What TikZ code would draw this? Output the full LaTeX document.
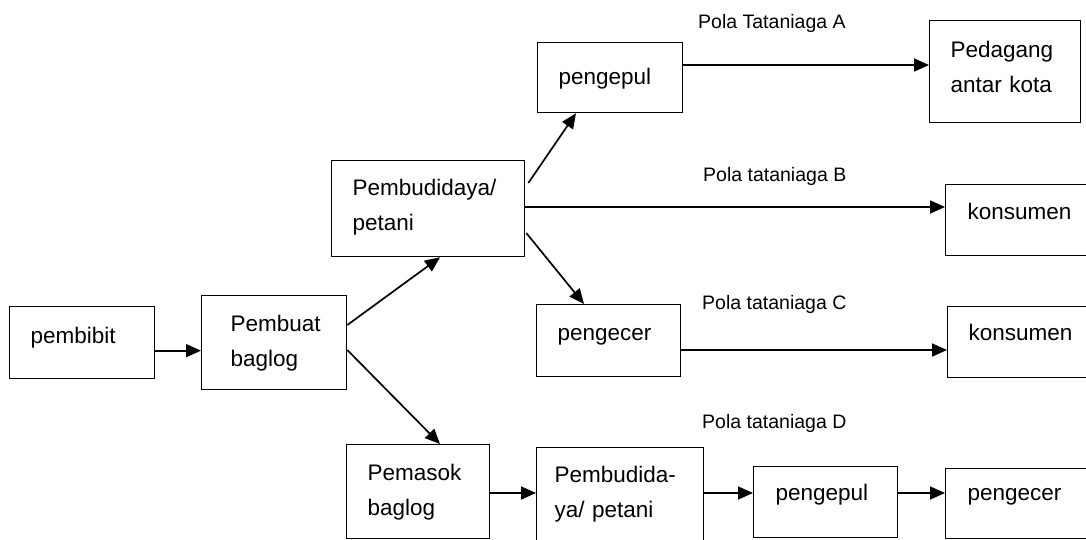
\documentclass[tikz,border=0pt]{standalone}
\usepackage{fontspec}
\setmainfont{Liberation Sans}
\usetikzlibrary{arrows.meta}
\tikzset{
  box/.style={draw, line width=1.3pt, anchor=north west, inner xsep=0pt, inner ysep=0pt,
    align=left, font=\fontsize{22.5}{34.5}\selectfont},
  bx/.style n args={4}{text width=#1pt, text depth=#2pt, text height=#3pt,
    execute at begin node={\leftskip=#4pt\relax}},
  arr/.style={line width=1.7pt, -{Triangle[length=15pt,width=13pt]}},
  lbl/.style={anchor=base west, inner sep=0pt, font=\fontsize{19.5}{22}\selectfont}
}
\begin{document}
\begin{tikzpicture}[x=1pt,y=-1pt]
\useasboundingbox (0,0) rectangle (1086,540);
% boxes: bx={W}{H-baseline}{baseline}{pad}
\node[box, bx={145}{35}{37}{21}] (bibit) at (9,306) {pembibit};
\node[box, bx={145}{58}{36}{29}] (buat) at (201,295) {Pembuat\\baglog};
\node[box, bx={193}{61}{35}{21}] (pbd) at (331,160) {Pembudidaya/\\petani};
\node[box, bx={145}{28}{42}{21}] (kul1) at (537,42) {pengepul};
\node[box, bx={151}{65}{37}{21}] (dagang) at (929,20) {Pedagang\\antar kota};
\node[box, bx={141}{36}{35}{22}] (kons1) at (945,184) {konsumen};
\node[box, bx={144}{36}{36}{21}] (cer1) at (536,304) {pengecer};
\node[box, bx={139}{37}{34}{21}] (kons2) at (947,306) {konsumen};
\node[box, bx={143}{58}{36}{21}] (pasok) at (346,444) {Pemasok\\baglog};
\node[box, bx={167}{65}{35}{18}] (pbd2) at (536,447) {Pembudida-\\ya/ petani};
\node[box, bx={144}{37}{34}{22}] (kul2) at (753,466) {pengepul};
\node[box, bx={141}{38}{32}{22}] (cer2) at (945,468) {pengecer};
% labels
\node[lbl] (la) at (698,29) {Pola Tataniaga A};
\node[lbl] (lb) at (703,182) {Pola tataniaga B};
\node[lbl] (lc) at (702,309) {Pola tataniaga C};
\node[lbl] (ld) at (702,428) {Pola tataniaga D};
% connectors
\draw[arr] ([yshift=-8pt]bibit.east) -- ([yshift=-8pt]bibit.east -| buat.west);
\draw[arr] ([yshift=-30pt]buat.north east) -- ([xshift=109pt]pbd.south west);
\draw[arr] ([yshift=-55pt]buat.north east) -- ([xshift=94pt]pasok.north west);
\draw[arr] ([xshift=3pt,yshift=-23pt]pbd.north east) -- ([xshift=39pt]kul1.south west);
\draw[arr] ([yshift=-47pt]pbd.north east) -- ([yshift=-47pt]pbd.north east -| kons1.west);
\draw[arr] ([xshift=1pt,yshift=-73pt]pbd.north east) -- ([xshift=48pt]cer1.north west);
\draw[arr] ([yshift=-23pt]kul1.north east) -- ([yshift=-23pt]kul1.north east -| dagang.west);
\draw[arr] ([yshift=-46pt]cer1.north east) -- ([yshift=-46pt]cer1.north east -| kons2.west);
\draw[arr] ([yshift=-49pt]pasok.north east) -- ([yshift=-49pt]pasok.north east -| pbd2.west);
\draw[arr] ([yshift=-46pt]pbd2.north east) -- ([yshift=-46pt]pbd2.north east -| kul2.west);
\draw[arr] ([yshift=-27pt]kul2.north east) -- ([yshift=-27pt]kul2.north east -| cer2.west);
\end{tikzpicture}
\end{document}
